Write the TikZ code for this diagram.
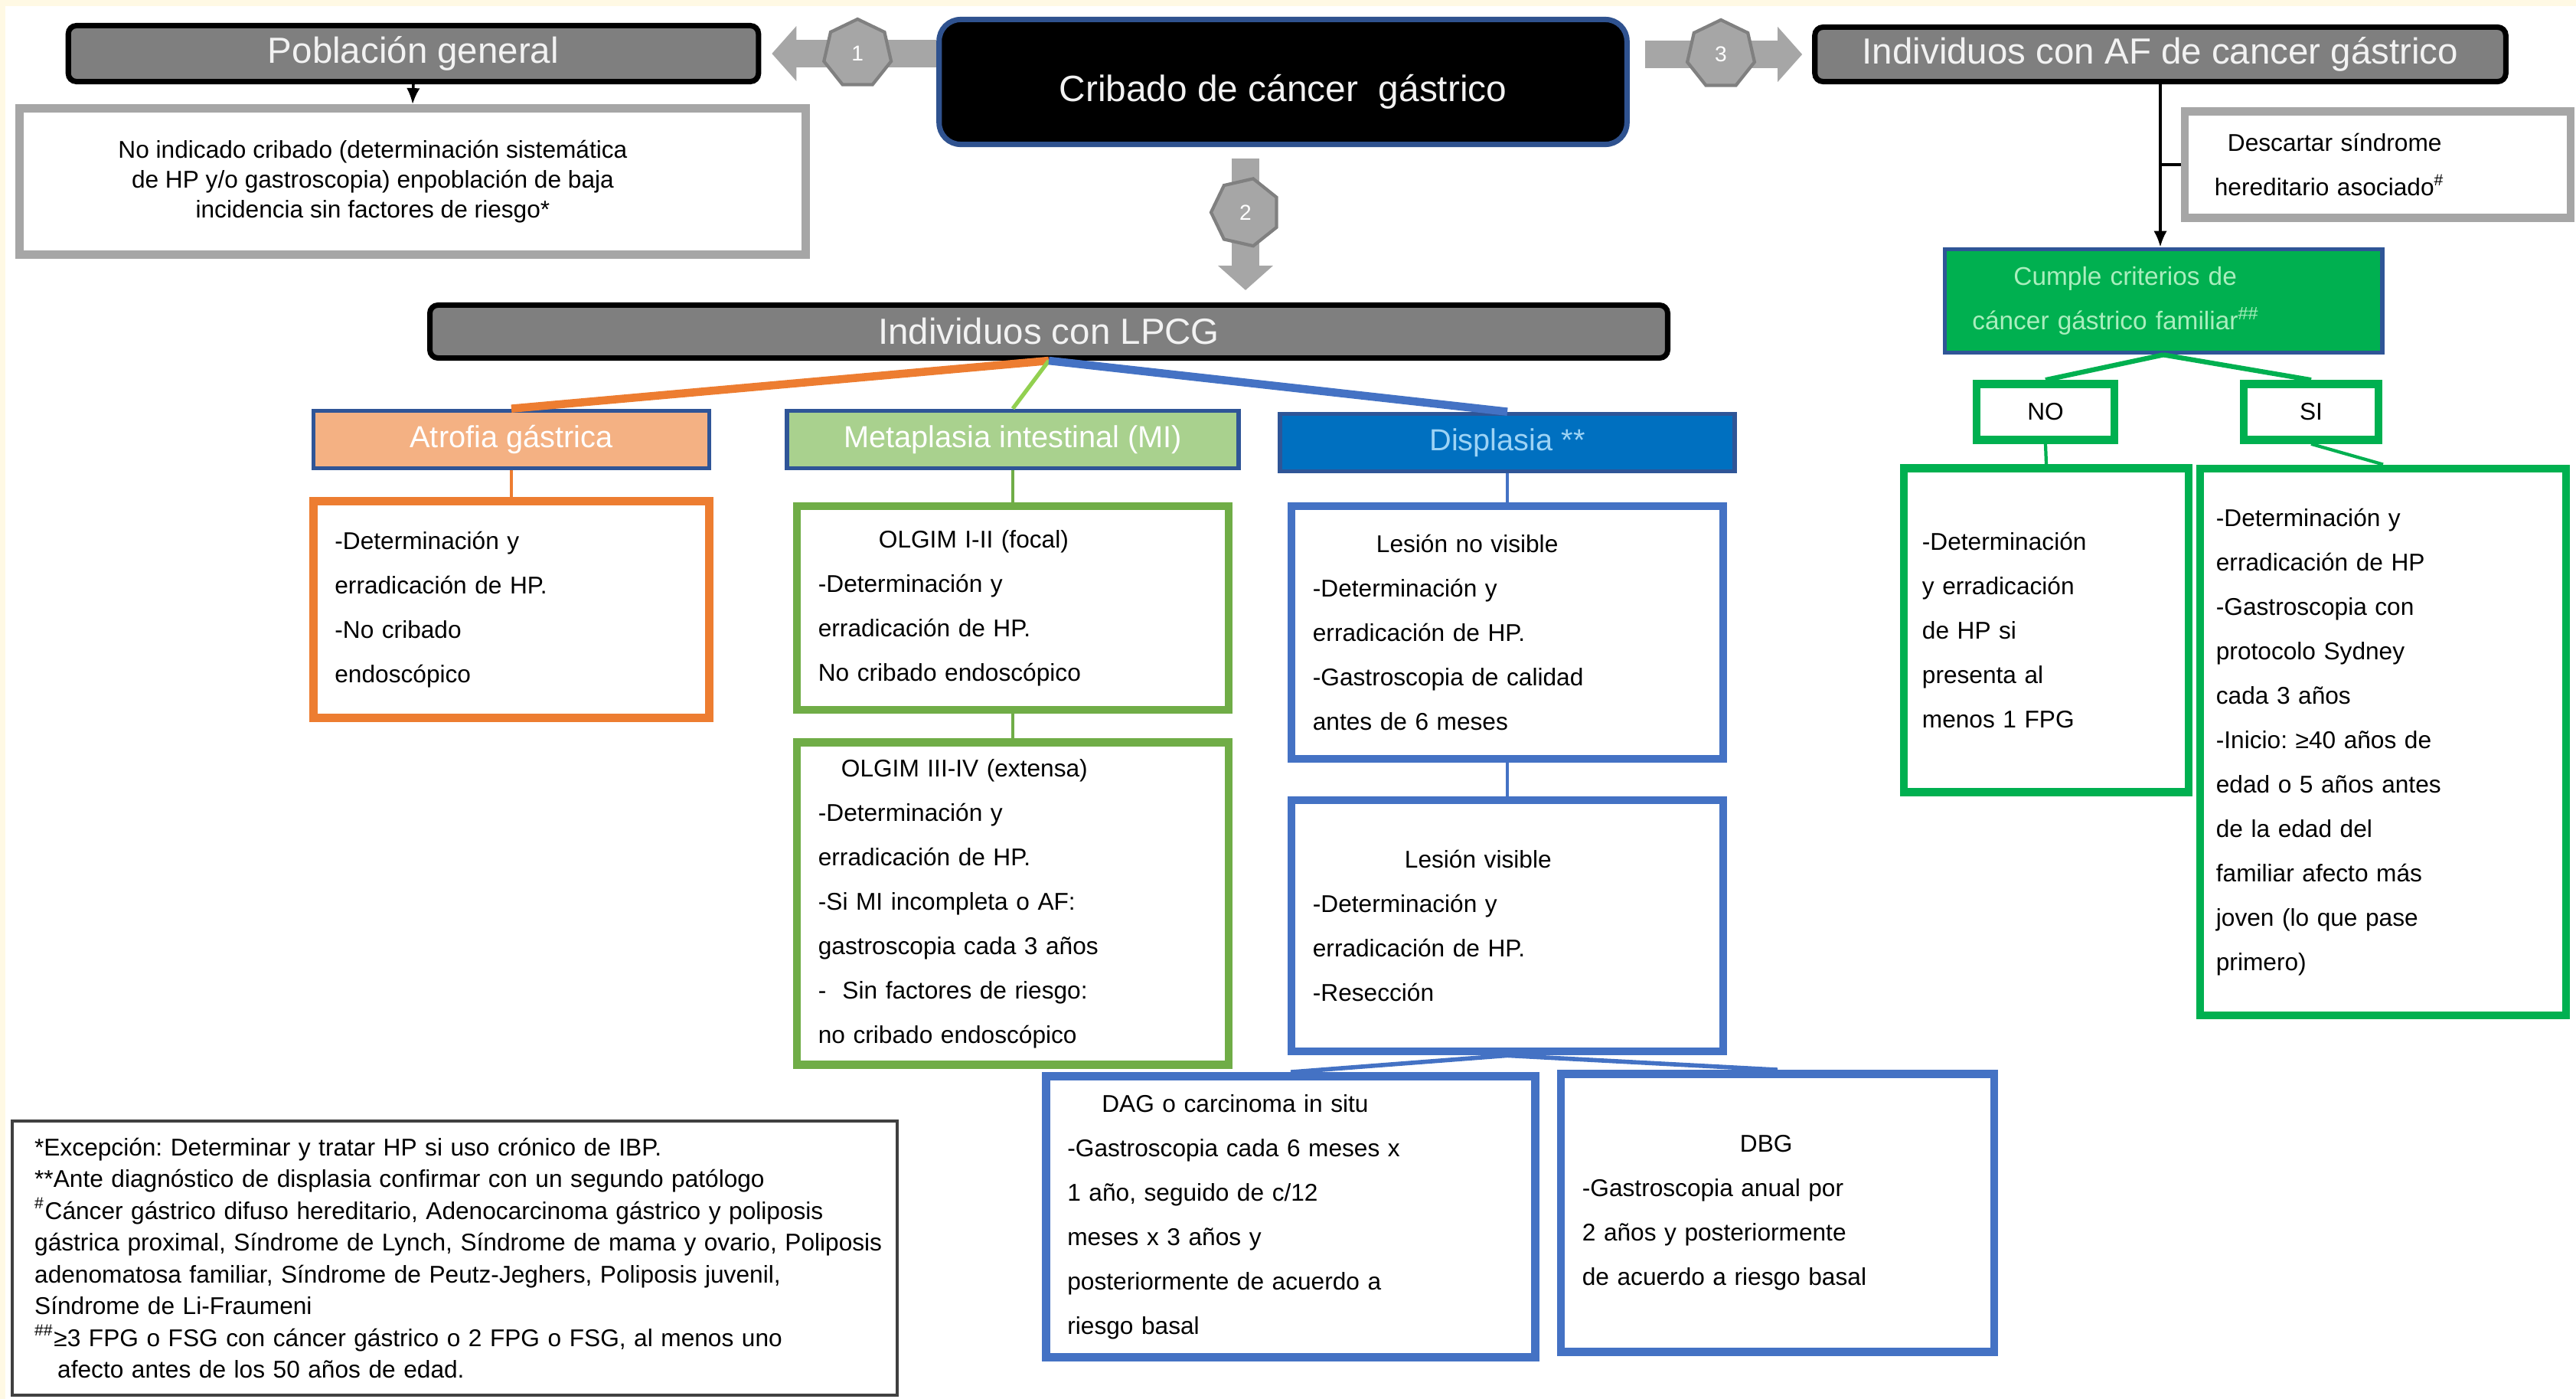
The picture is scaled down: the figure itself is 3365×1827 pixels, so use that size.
\documentclass[tikz,border=0pt]{standalone}
\usepackage{fontspec}
\setmainfont{Liberation Sans}
\usepackage{tikz}
\usetikzlibrary{positioning}
\usetikzlibrary{shapes.geometric}
\usetikzlibrary{arrows.meta}
\frenchspacing
\definecolor{crema}{RGB}{255,249,228}
\definecolor{grisbloque}{RGB}{166,166,166}
\definecolor{grishexa}{RGB}{128,128,128}
\definecolor{grisfondo}{RGB}{127,127,127}
\definecolor{grismarco}{RGB}{166,166,166}
\definecolor{azulmarco}{RGB}{47,85,151}
\definecolor{azulcribado}{RGB}{47,82,143}
\definecolor{naranjaclaro}{RGB}{244,177,131}
\definecolor{naranja}{RGB}{237,125,49}
\definecolor{verdeclaro}{RGB}{169,209,142}
\definecolor{verdemi}{RGB}{112,173,71}
\definecolor{verdelinea}{RGB}{146,208,80}
\definecolor{azulfuerte}{RGB}{0,112,192}
\definecolor{azulcaja}{RGB}{68,114,196}
\definecolor{azultexto}{RGB}{157,211,245}
\definecolor{verdeaf}{RGB}{0,176,80}
\definecolor{verdetexto}{RGB}{170,238,190}
\definecolor{grisnotas}{RGB}{64,64,64}

\tikzset{
  titulo/.style={draw=black, line width=2pt, rounded corners=3pt, fill=grisfondo,
    text=white!95!black, font=\fontsize{13.5}{16}\selectfont, inner sep=0pt},
  cabecera/.style={draw=azulmarco, line width=1.6pt, text=white, inner sep=0pt,
    font=\fontsize{11.3}{13}\selectfont},
  caja/.style={draw, line width=3pt, fill=white, align=left, inner xsep=0.28cm,
    inner ysep=0pt, font=\fontsize{9}{16.5}\selectfont},
  bloque/.style={grisbloque, line width=0.36cm, -{Triangle[width=0.7cm, length=0.32cm]}},
  hexa/.style={regular polygon, regular polygon sides=7, fill=grisbloque,
    draw=grishexa, line width=1.2pt, minimum size=0.9cm, inner sep=0pt,
    text=white, font=\fontsize{8}{9}\selectfont},
}

\begin{document}
\begin{tikzpicture}[x=0.01cm, y=-0.01cm]
    \useasboundingbox (0,0) rectangle (3365,1827);
    \fill[crema] (0,0) rectangle (3365,1827);
    \fill[white] (7,8) rectangle (3365,1827);

    % titulos
    \node[titulo, minimum width=9.01cm, minimum height=0.73cm] (pob) at (540,70) {Población general};
    \node[titulo, fill=black, draw=azulcribado, rounded corners=8pt, minimum width=8.98cm,
          minimum height=1.63cm, text height=0.6cm, font=\fontsize{13.6}{16}\selectfont] (crib) at (1676,107) {Cribado de cáncer~ gástrico};
    \node[titulo, minimum width=9.02cm, minimum height=0.71cm] (af) at (2822,71) {Individuos con AF de cancer gástrico};
    \node[titulo, minimum width=16.16cm, minimum height=0.69cm] (lpcg) at (1370,433) {Individuos con LPCG};

    \node[caja, draw=grismarco, minimum width=10.26cm, minimum height=1.91cm,
          label={[xshift=-0.52cm, align=center, font=\fontsize{9}{11}\selectfont]center:No indicado cribado (determinación sistemática\\de HP y/o gastroscopia) enpoblación de baja\\incidencia sin factores de riesgo*}]
          (pobTxt) at (539,237) {};

    % flechas numeradas
    \coordinate (f2) at (1627,0);
    \draw[bloque, shorten >=0.14cm] (crib.west |- pob.east) -- (pob.east)
        node[hexa, pos=0.45] (h1) {1};
    \draw[bloque, shorten <=0.2cm, shorten >=0.13cm] (crib.east |- af.west) -- (af.west)
        node[hexa, pos=0.5] (h3) {3};
    \draw[bloque, shorten <=0.15cm, shorten >=0.16cm] (crib.south -| f2) -- (lpcg.north -| f2)
        node[hexa, pos=0.42, shape border rotate=90] (h2) {2};

    % LPCG
    \node[cabecera, fill=naranjaclaro, minimum width=5.17cm, minimum height=0.75cm] (atrofia) at (668,574) {Atrofia gástrica};
    \node[cabecera, fill=verdeclaro, minimum width=5.90cm, minimum height=0.75cm] (mi) at (1323,574) {Metaplasia intestinal (MI)};
    \node[cabecera, fill=azulfuerte, text=azultexto, minimum width=5.94cm, minimum height=0.75cm] (displasia) at (1969,578) {Displasia **};

    \node[caja, draw=naranja, text width=4.61cm, minimum height=2.83cm] (atrofiaTxt) at (668,796)
        {-Determinación y\\erradicación de HP.\\-No cribado\\endoscópico};
    \node[caja, draw=verdemi, text width=5.08cm, minimum height=2.66cm] (mi1) at (1323,794)
        {\hspace*{0.79cm}OLGIM I-II (focal)\\-Determinación y\\erradicación de HP.\\No cribado endoscópico};
    \node[caja, draw=verdemi, text width=5.08cm, minimum height=4.21cm] (mi2) at (1323,1180)
        {\hspace*{0.3cm}OLGIM III-IV (extensa)\\-Determinación y\\erradicación de HP.\\-Si MI incompleta o AF:\\gastroscopia cada 3 años\\-~ Sin factores de riesgo:\\no cribado endoscópico};
    \node[caja, draw=azulcaja, text width=5.08cm, minimum height=3.30cm] (disp1) at (1969,826)
        {\hspace*{0.83cm}Lesión no visible\\-Determinación y\\erradicación de HP.\\-Gastroscopia de calidad\\antes de 6 meses};
    \node[caja, draw=azulcaja, text width=5.08cm, minimum height=3.28cm] (disp2) at (1969,1209)
        {\hspace*{1.2cm}Lesión visible\\-Determinación y\\erradicación de HP.\\-Resección};
    \node[caja, draw=azulcaja, text width=5.83cm, minimum height=3.67cm] (dag) at (1686,1589)
        {\hspace*{0.45cm}DAG o carcinoma in situ\\-Gastroscopia cada 6 meses x\\1 año, seguido de c/12\\meses x 3 años y\\posteriormente de acuerdo a\\riesgo basal};
    \node[caja, draw=azulcaja, text width=5.10cm, minimum height=3.63cm] (dbg) at (2322,1584)
        {\hspace*{2.06cm}DBG\\-Gastroscopia anual por\\2 años y posteriormente\\de acuerdo a riesgo basal};

    \draw[naranja, line width=3pt] (lpcg.south) -- (atrofia.north);
    \draw[verdelinea, line width=1.5pt] (lpcg.south) -- (mi.north);
    \draw[azulcaja, line width=3pt] (lpcg.south) -- (displasia.north);
    \draw[naranja, line width=1.2pt] (atrofia.south) -- (atrofiaTxt.north);
    \draw[verdemi, line width=1.2pt] (mi.south) -- (mi1.north);
    \draw[verdemi, line width=1.2pt] (mi1.south) -- (mi2.north);
    \draw[azulcaja, line width=1.2pt] (displasia.south) -- (disp1.north);
    \draw[azulcaja, line width=1.2pt] (disp1.south) -- (disp2.north);
    \draw[azulcaja, line width=1.6pt] (disp2.south) -- (dag.north);
    \draw[azulcaja, line width=1.6pt] (disp2.south) -- (dbg.north);

    % antecedentes familiares
    \node[caja, draw=grismarco, text width=4.26cm, inner xsep=0.39cm, minimum height=1.39cm] (descartar) at (3106,215)
        {\hspace*{0.17cm}Descartar síndrome\\hereditario asociado\textsuperscript{\#}};
    \node[caja, draw=azulmarco, fill=verdeaf, text=verdetexto, line width=1.6pt, text width=4.99cm, inner xsep=0.36cm,
          minimum height=1.35cm, font=\fontsize{9.5}{16.5}\selectfont] (cumple) at (2826,393)
        {\hspace*{0.54cm}Cumple criterios de\\cáncer gástrico familiar\textsuperscript{\#\#}};
    \node[caja, draw=verdeaf, align=center, minimum width=1.80cm, minimum height=0.73cm] (no) at (2672,538) {NO};
    \node[caja, draw=verdeaf, align=center, minimum width=1.76cm, minimum height=0.73cm] (si) at (3019,538) {SI};
    \node[caja, draw=verdeaf, text width=3.24cm, inner xsep=0.24cm, minimum height=4.23cm] (noTxt) at (2673,823)
        {-Determinación\\y erradicación\\de HP si\\presenta al\\menos 1 FPG};
    \node[caja, draw=verdeaf, text width=4.36cm, inner xsep=0.21cm, minimum height=7.14cm] (siTxt) at (3113,969)
        {-Determinación y\\erradicación de HP\\-Gastroscopia con\\protocolo Sydney\\cada 3 años\\-Inicio: ≥40 años de\\edad o 5 años antes\\de la edad del\\familiar afecto más\\joven (lo que pase\\primero)};

    \draw[-{Latex[length=6pt, width=5pt]}, line width=1pt] (af.south) -- (af.south |- cumple.north);
    \draw[line width=1pt] (descartar.west) -- (descartar.west -| af.south);
    \draw[-{Latex[length=6pt, width=5pt]}, line width=1pt] (pob.south) -- (pobTxt.north);
    \draw[verdeaf, line width=1.8pt] (cumple.south) -- (no.north);
    \draw[verdeaf, line width=1.8pt] (cumple.south) -- (si.north);
    \draw[verdeaf, line width=1.2pt] (no.south) -- (noTxt.north);
    \draw[verdeaf, line width=1.2pt] (si.south) -- (siTxt.north);

    % notas
    \node[caja, draw=grisnotas, line width=1.3pt, text width=10.97cm, inner xsep=0.29cm, minimum height=3.58cm,
          font=\fontsize{9}{11.8}\selectfont] (notas) at (594,1643)
        {*Excepción: Determinar y tratar HP si uso crónico de IBP.\\
         {}**Ante diagnóstico de displasia confirmar con un segundo patólogo\\
         \mbox{\textsuperscript{\#}Cáncer gástrico difuso hereditario, Adenocarcinoma gástrico y poliposis}\\
         \mbox{gástrica proximal, Síndrome de Lynch, Síndrome de mama y ovario, Poliposis}\\
         \mbox{adenomatosa familiar, Síndrome de Peutz-Jeghers, Poliposis juvenil,}\\
         Síndrome de Li-Fraumeni\\
         \mbox{\textsuperscript{\#\#}≥3 FPG o FSG con cáncer gástrico o 2 FPG o FSG, al menos uno}\\
         \hspace*{0.3cm}afecto antes de los 50 años de edad.};
\end{tikzpicture}
\end{document}
